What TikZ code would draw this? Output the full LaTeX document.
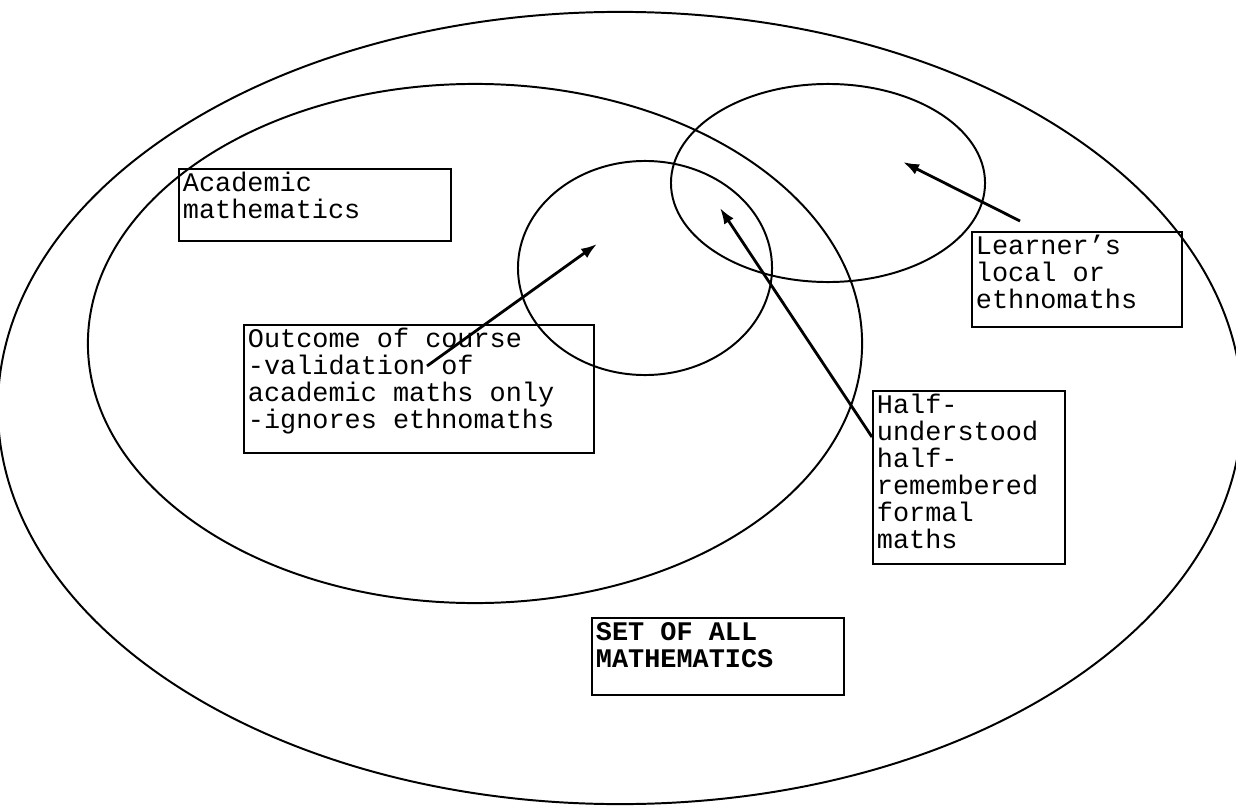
\documentclass[tikz,border=0pt]{standalone}
\usepackage{fontspec}
\setmonofont{Liberation Mono}
\usetikzlibrary{arrows.meta}

\tikzset{
  setline/.style={line width=1.4pt},
  textbox/.style={draw, line width=1.4pt, anchor=north west, align=flush left,
    inner xsep=0.1cm, inner ysep=0pt, text height=0.5625cm,
    font=\ttfamily\fontsize{19.1}{19.2}\selectfont},
  pointer/.style={-{Latex[length=0.4cm,width=0.28cm]}, line width=2pt}
}

\begin{document}
\begin{tikzpicture}[x=0.025cm, y=-0.025cm]
\fill[white] (0,0) rectangle (1236,808);
\useasboundingbox (0,0) rectangle (1236,808);

% Draw sets
\draw[setline] (620,408) ellipse [x radius=15.55cm, y radius=9.9cm];
\draw[setline] (475,343.5) ellipse [x radius=9.675cm, y radius=6.4875cm];
\draw[setline] (645,268) ellipse [x radius=3.175cm, y radius=2.675cm];
\draw[setline] (828,183) ellipse [x radius=3.925cm, y radius=2.475cm];

% Define nodes
\node[textbox, text width=6.6cm, text depth=1.2375cm] (academic) at (178,168)
  {Academic\\mathematics};
\node[textbox, text width=5.05cm, text depth=1.8125cm] (learner) at (971,231)
  {Learner’s\\local or\\ethnomaths};
\node[textbox, text width=8.55cm, text depth=2.6375cm] (outcome) at (243,324)
  {Outcome of course\\-validation of\\academic maths only\\-ignores ethnomaths};
\node[textbox, text width=4.6cm, text depth=3.7625cm] (half) at (872,390)
  {Half-\\understood\\half-\\remembered\\formal\\maths};
\node[textbox, text width=6.1cm, text depth=1.3625cm, font=\ttfamily\bfseries\fontsize{19.1}{19.2}\selectfont] (allmaths) at (591,617)
  {SET OF ALL\\MATHEMATICS};

% Arrow ends
\coordinate (learnertail) at ([shift={(49,-10)}]learner.north west);
\coordinate (learnertip) at (903,162);
\coordinate (halftail) at ([shift={(0,47)}]half.north west);
\coordinate (halftip) at (720,208);
\coordinate (outcometail) at ([shift={(184,42)}]outcome.north west);
\coordinate (outcometip) at (597,244);

% Draw arrows
\draw[pointer] (learnertail) -- (learnertip);
\draw[pointer] (halftail) -- (halftip);
\draw[pointer] (outcometail) -- (outcometip);

\end{tikzpicture}
\end{document}
